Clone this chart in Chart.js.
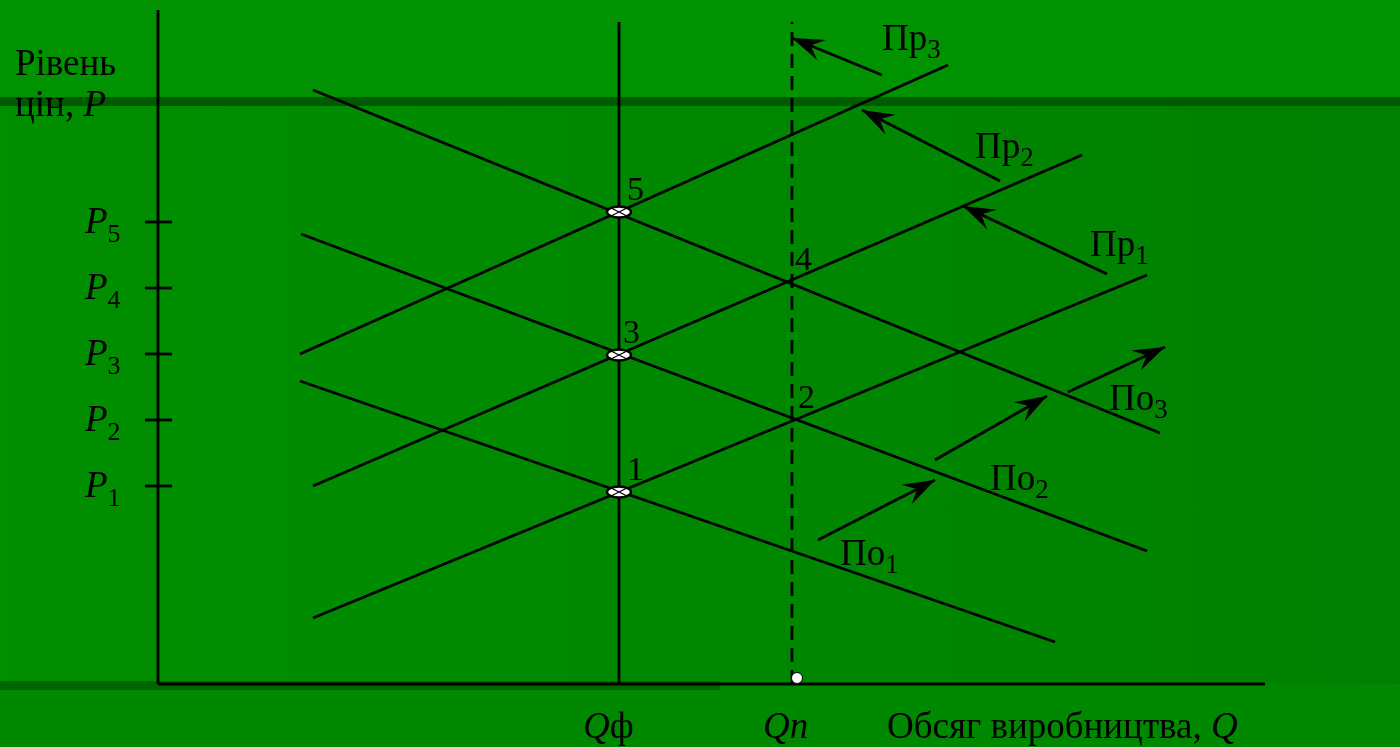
<!DOCTYPE html>
<html>
<head>
<meta charset="utf-8">
<script src="https://cdn.jsdelivr.net/npm/chart.js@4.4.1/dist/chart.umd.min.js"></script>
<style>
    body { margin: 0; width: 1400px; height: 747px; overflow: hidden; position: relative;
        background: #008a00; }
    #bgTop { position: absolute; left: 0; top: 0; width: 1400px; height: 97px; background: #009200; }
    #bgBand { position: absolute; left: 0; top: 97px; width: 1400px; height: 9px; background: #005a00; }
    #bgMid { position: absolute; left: 0; top: 106px; width: 1400px; height: 578px;
        background: linear-gradient(to right, #008f00, #008500 70%, #008000); }
    #bgLow { position: absolute; left: 0; top: 684px; width: 1400px; height: 63px; background: #008800; }
    #bgBand2 { position: absolute; left: 0; top: 681px; width: 720px; height: 9px; background: #006400; }
    canvas { position: absolute; left: 0; top: 0; }
</style>
</head>
<body>
<div id="bgTop"></div><div id="bgBand"></div><div id="bgMid"></div><div id="bgLow"></div><div id="bgBand2"></div>
<canvas id="chart" width="1400" height="747"></canvas>
<script>
// units: x = output, y = price level (schematic)
const xMax = 110.7;
const yMax = 67.4;
const Qf = 46.1;
const Qn = 63.4;
const priceLevels = [19.8, 26.4, 33.0, 39.6, 46.2];
const priceNames = ["1", "2", "3", "4", "5"];

// demand lines По1..По3
const demandLines = [
    [[14.2, 30.3], [89.7, 4.2]],
    [[14.3, 45.0], [98.9, 13.3]],
    [[15.5, 59.4], [100.2, 25.1]]
];
// supply lines Пр1..Пр3
const supplyLines = [
    [[15.5, 6.6], [98.9, 40.9]],
    [[15.5, 19.8], [92.4, 52.9]],
    [[14.2, 33.0], [79.0, 61.9]]
];
// shift arrows: tail -> head
const supplyArrows = [
    [[94.9, 41.0], [80.5, 47.8]],
    [[84.2, 50.3], [70.4, 57.4]],
    [[72.4, 60.9], [63.4, 64.6]]
];
const demandArrows = [
    [[66.0, 14.4], [77.7, 20.4]],
    [[77.7, 22.4], [88.9, 28.8]],
    [[91.0, 29.2], [100.7, 33.7]]
];
// equilibrium nodes
const nodeX = [46.1, 46.1, 46.1];
const nodeY = [19.2, 32.9, 47.2];
const markerQn = [63.9, 0.6];

// labels: [text, subscript, x, y]
const lineLabels = [
    ["Пр", "1", 93.2, 42.8],
    ["Пр", "2", 81.7, 52.6],
    ["Пр", "3", 72.4, 63.4],
    ["По", "1", 68.2, 11.9],
    ["По", "2", 83.2, 19.4],
    ["По", "3", 95.1, 27.4]
];
const pointLabels = [
    ["1", 46.9, 20.4],
    ["2", 64.0, 27.6],
    ["3", 46.5, 34.1],
    ["4", 63.7, 41.4],
    ["5", 46.9, 48.4]
];

function seg(p) {
    return p.map(q => ({ x: q[0], y: q[1] }));
}

function lineSet(points, extra) {
    return Object.assign({
        data: seg(points),
        showLine: true,
        borderColor: "#000",
        borderWidth: 2.8,
        pointRadius: 0,
        clip: false
    }, extra || {});
}

const nodeImg = document.createElement("canvas");
nodeImg.width = 30;
nodeImg.height = 16;
(function () {
    const c = nodeImg.getContext("2d");
    c.beginPath();
    c.ellipse(15, 8, 12, 5.5, 0, 0, Math.PI * 2);
    c.fillStyle = "#fff";
    c.fill();
    c.lineWidth = 2.4;
    c.strokeStyle = "#000";
    c.stroke();
    c.beginPath();
    c.moveTo(8, 4.5); c.lineTo(22, 11.5);
    c.moveTo(8, 11.5); c.lineTo(22, 4.5);
    c.lineWidth = 1.3;
    c.stroke();
})();

const datasets = [];
datasets.push({
    data: nodeX.map((x, i) => ({ x, y: nodeY[i] })),
    pointStyle: nodeImg,
    pointRadius: 8,
    clip: false
});
datasets.push({
    data: [{ x: markerQn[0], y: markerQn[1] }],
    pointStyle: "circle",
    pointRadius: 5.5,
    backgroundColor: "#fff",
    borderColor: "#000",
    borderWidth: 1,
    clip: false
});
demandLines.forEach(l => datasets.push(lineSet(l)));
supplyLines.forEach(l => datasets.push(lineSet(l)));
supplyArrows.concat(demandArrows).forEach(a => datasets.push(lineSet(a)));
priceLevels.forEach(p => datasets.push(lineSet([[-1.3, p], [1.4, p]])));
datasets.push(lineSet([[Qf, 0], [Qf, 66.2]]));
datasets.push(lineSet([[Qn, 0], [Qn, 66.2]], { borderDash: [14, 8] }));
datasets.push(lineSet([[0, 0], [0, yMax]]));
datasets.push(lineSet([[0, 0], [xMax, 0]]));

function drawHead(ctx, tx, ty, hx, hy) {
    const a = Math.atan2(hy - ty, hx - tx);
    const len = 32, half = 11, notch = 20;
    ctx.save();
    ctx.translate(hx, hy);
    ctx.rotate(a);
    ctx.beginPath();
    ctx.moveTo(0, 0);
    ctx.lineTo(-len, -half);
    ctx.lineTo(-notch, 0);
    ctx.lineTo(-len, half);
    ctx.closePath();
    ctx.fillStyle = "#000";
    ctx.fill();
    ctx.restore();
}

function subText(ctx, main, sub, x, y, mainFont, subFont, drop) {
    ctx.font = mainFont;
    ctx.fillText(main, x, y);
    const w = ctx.measureText(main).width;
    ctx.font = subFont;
    ctx.fillText(sub, x + w, y + drop);
}

const annotations = {
    id: "annotations",
    afterDraw(chart) {
        const ctx = chart.ctx;
        const sx = chart.scales.x, sy = chart.scales.y;
        const px = v => sx.getPixelForValue(v);
        const py = v => sy.getPixelForValue(v);

        supplyArrows.concat(demandArrows).forEach(a => {
            drawHead(ctx, px(a[0][0]), py(a[0][1]), px(a[1][0]), py(a[1][1]));
        });

        ctx.fillStyle = "#000";
        ctx.textBaseline = "alphabetic";
        ctx.textAlign = "left";

        lineLabels.forEach(l => {
            subText(ctx, l[0], l[1], px(l[2]), py(l[3]),
                "37px 'Liberation Serif'", "27px 'Liberation Serif'", 8);
        });

        ctx.font = "34px 'Liberation Serif'";
        pointLabels.forEach(l => ctx.fillText(l[0], px(l[1]), py(l[2])));

        priceLevels.forEach((p, i) => {
            subText(ctx, "P", priceNames[i], px(-7.3), py(p) + 11,
                "italic 37px 'Liberation Serif'", "26px 'Liberation Serif'", 9);
        });

        ctx.font = "37px 'Liberation Serif'";
        ctx.fillText("Рівень", px(-14.3), py(60.9));
        const lx = px(-14.3), ly = py(56.8);
        ctx.fillText("цін, ", lx, ly);
        const w1 = ctx.measureText("цін, ").width;
        ctx.font = "italic 37px 'Liberation Serif'";
        ctx.fillText("P", lx + w1, ly);

        const by = py(-5.4);
        ctx.font = "italic 37px 'Liberation Serif'";
        ctx.fillText("Q", px(42.5), by);
        let wq = ctx.measureText("Q").width;
        ctx.font = "37px 'Liberation Serif'";
        ctx.fillText("ф", px(42.5) + wq, by);

        ctx.font = "italic 37px 'Liberation Serif'";
        ctx.fillText("Qn", px(60.5), by);

        ctx.font = "37px 'Liberation Serif'";
        const ox = px(72.9);
        ctx.fillText("Обсяг виробництва, ", ox, by);
        const wo = ctx.measureText("Обсяг виробництва, ").width;
        ctx.font = "italic 37px 'Liberation Serif'";
        ctx.fillText("Q", ox + wo, by);
    }
};

new Chart(document.getElementById("chart"), {
    type: "scatter",
    data: { datasets },
    options: {
        responsive: false,
        animation: false,
        layout: { padding: { left: 158, right: 135, top: 10, bottom: 63 } },
        plugins: { legend: { display: false }, tooltip: { enabled: false } },
        scales: {
            x: { type: "linear", min: 0, max: xMax, display: false },
            y: { type: "linear", min: 0, max: yMax, display: false }
        }
    },
    plugins: [annotations]
});
</script>
</body>
</html>
